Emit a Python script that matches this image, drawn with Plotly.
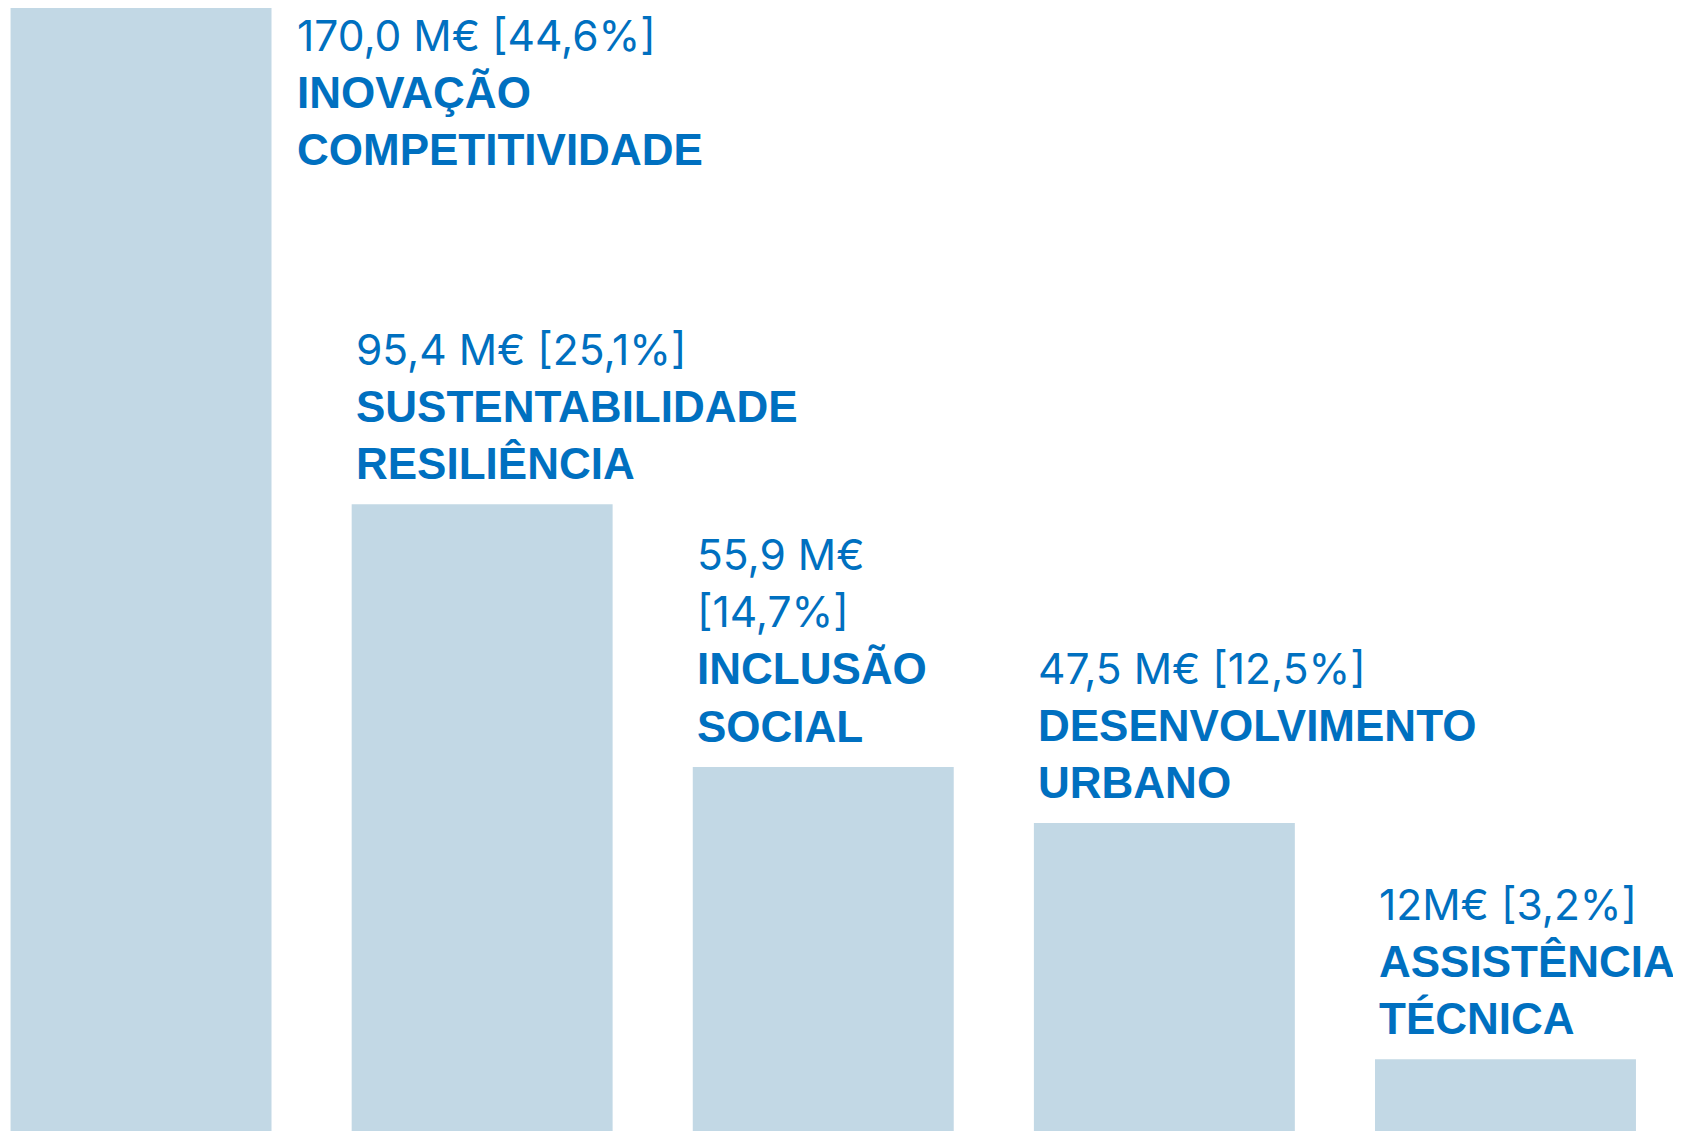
import plotly.graph_objects as go

categories = ["INOVAÇÃO COMPETITIVIDADE", "SUSTENTABILIDADE RESILIÊNCIA",
              "INCLUSÃO SOCIAL", "DESENVOLVIMENTO URBANO", "ASSISTÊNCIA TÉCNICA"]
values = [170.0, 95.4, 55.9, 47.5, 12.0]
value_labels = ["170,0 M€ [44,6%]", "95,4 M€ [25,1%]", "55,9 M€<br>[14,7%]",
                "47,5 M€ [12,5%]", "12M€ [3,2%]"]
name_lines = [["INOVAÇÃO", "COMPETITIVIDADE"], ["SUSTENTABILIDADE", "RESILIÊNCIA"],
              ["INCLUSÃO", "SOCIAL"], ["DESENVOLVIMENTO", "URBANO"],
              ["ASSISTÊNCIA", "TÉCNICA"]]

BAR = "#C2D8E5"
TXT = "#0070C0"
FONT = "Liberation Sans, Arial, sans-serif"

xs = list(range(len(categories)))
fig = go.Figure(go.Bar(x=xs, y=values, marker=dict(color=BAR, line=dict(width=0)),
                       hoverinfo="skip", showlegend=False))

for i, (v, vl, nl) in enumerate(zip(values, value_labels, name_lines)):
    vtxt = "<br>".join(f"<span style='font-family:Inter;font-size:42.5px'>{p}</span>"
                       for p in vl.split("<br>"))
    text = vtxt + "<br>" + "<br>".join(f"<b>{n}</b>" for n in nl)
    if i == 0:
        fig.add_annotation(x=i, y=v, xref="x", yref="y", text=text, showarrow=False,
                           xanchor="left", yanchor="top", align="left",
                           xshift=154, yshift=0,
                           font=dict(family=FONT, size=44, color=TXT))
    else:
        fig.add_annotation(x=i, y=v, xref="x", yref="y", text=text, showarrow=False,
                           xanchor="left", yanchor="bottom", align="left",
                           xshift=-128, yshift=14,
                           font=dict(family=FONT, size=44, color=TXT))

fig.update_layout(width=1681, height=1131, margin=dict(l=0, r=0, t=0, b=0),
                  paper_bgcolor="white", plot_bgcolor="white", bargap=0.235,
                  xaxis=dict(range=[-0.390, 4.538], visible=False, fixedrange=True),
                  yaxis=dict(range=[0, 170], visible=False, fixedrange=True))
fig.write_html("out.html", config={"displayModeBar": False})
